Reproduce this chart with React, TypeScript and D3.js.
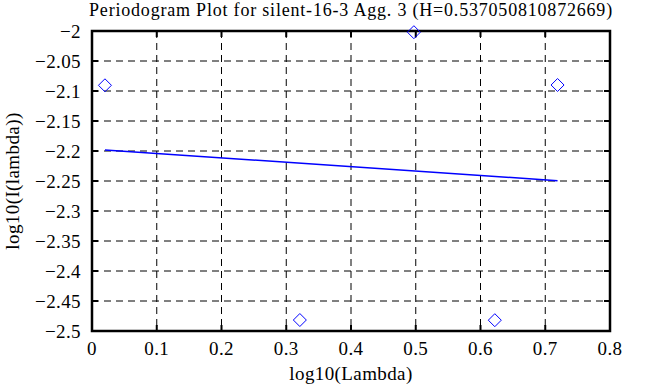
import * as d3 from 'd3';
import React from 'react';

const title = 'Periodogram Plot for silent-16-3 Agg. 3 (H=0.537050810872669)';
const xLabel = 'log10(Lambda)';
const yLabel = 'log10(I(lambda))';

// periodogram points
const logLambda = [0.0200, 0.3210, 0.4971, 0.6221, 0.7190];
const logI = [-2.0905, -2.4817, -2.0020, -2.4820, -2.0900];

// least squares fit, endpoints
const fitX = [0.0200, 0.7190];
const fitY = [-2.1983, -2.2495];

const xTicks = [0, 0.1, 0.2, 0.3, 0.4, 0.5, 0.6, 0.7, 0.8];
const yTicks = [-2, -2.05, -2.1, -2.15, -2.2, -2.25, -2.3, -2.35, -2.4, -2.45, -2.5];

const W = 663;
const H = 387;
const margin = { top: 31, right: 53, bottom: 56, left: 92 };
const font = "'Liberation Serif', 'Times New Roman', serif";

function App() {
    const x = d3.scaleLinear().domain([0, 0.8]).range([margin.left, W - margin.right]);
    const y = d3.scaleLinear().domain([-2.5, -2]).range([H - margin.bottom, margin.top]);
    const tickLen = 6;
    const line = d3.line<number>().x((d, i) => x(fitX[i])).y(d => y(d));

    return (
        <svg width={W} height={H} style={{ position: 'absolute', left: 0, top: 0, background: '#fff', fontFamily: font }}>
            <g style={{ fontFamily: font, fontSize: '19px', letterSpacing: '0.4px' }} fill="#000">
                {/* grid */}
                {xTicks.slice(1, -1).map(t => <line key={'gx' + t} x1={x(t)} x2={x(t)} y1={y(-2)} y2={y(-2.5)}
                    stroke="#000" strokeWidth={1} strokeDasharray="7,5" />)}
                {yTicks.slice(1, -1).map(t => <line key={'gy' + t} x1={x(0)} x2={x(0.8)} y1={y(t)} y2={y(t)}
                    stroke="#000" strokeWidth={1} strokeDasharray="7,5" />)}
                {/* ticks, inward on all sides */}
                {xTicks.map(t => <g key={'tx' + t}>
                    <line x1={x(t)} x2={x(t)} y1={y(-2.5)} y2={y(-2.5) - tickLen} stroke="#000" strokeWidth={2} />
                    <line x1={x(t)} x2={x(t)} y1={y(-2)} y2={y(-2) + tickLen} stroke="#000" strokeWidth={2} />
                    <text x={x(t)} y={y(-2.5) + 24} textAnchor="middle">{d3.format('')(t)}</text>
                </g>)}
                {yTicks.map(t => <g key={'ty' + t}>
                    <line x1={x(0)} x2={x(0) + tickLen} y1={y(t)} y2={y(t)} stroke="#000" strokeWidth={2} />
                    <line x1={x(0.8)} x2={x(0.8) - tickLen} y1={y(t)} y2={y(t)} stroke="#000" strokeWidth={2} />
                    <text x={x(0) - 11} y={y(t) + 7} textAnchor="end">{d3.format('')(t)}</text>
                </g>)}
                {/* border */}
                <rect x={x(0)} y={y(-2)} width={x(0.8) - x(0)} height={y(-2.5) - y(-2)}
                    fill="none" stroke="#000" strokeWidth={2.5} />
                {/* fit line */}
                <path d={line(fitY) || ''} fill="none" stroke="#0000ff" strokeWidth={1.5} />
                {/* points */}
                {logLambda.map((v, i) => {
                    const cx = x(v);
                    const cy = y(logI[i]);
                    const r = 6.5;
                    return <path key={'p' + i}
                        d={`M${cx},${cy - r}L${cx + r},${cy}L${cx},${cy + r}L${cx - r},${cy}Z`}
                        fill="none" stroke="#0000ff" strokeWidth={1} />;
                })}
                <text x={(x(0) + x(0.8)) / 2} y={16} textAnchor="middle"
                    style={{ fontSize: '18px', letterSpacing: '0.8px' }}>{title}</text>
                <text x={(x(0) + x(0.8)) / 2} y={380} textAnchor="middle">{xLabel}</text>
                <text transform={`translate(19,${(y(-2) + y(-2.5)) / 2}) rotate(-90)`} textAnchor="middle">{yLabel}</text>
            </g>
        </svg>
    );
}

export default App;
